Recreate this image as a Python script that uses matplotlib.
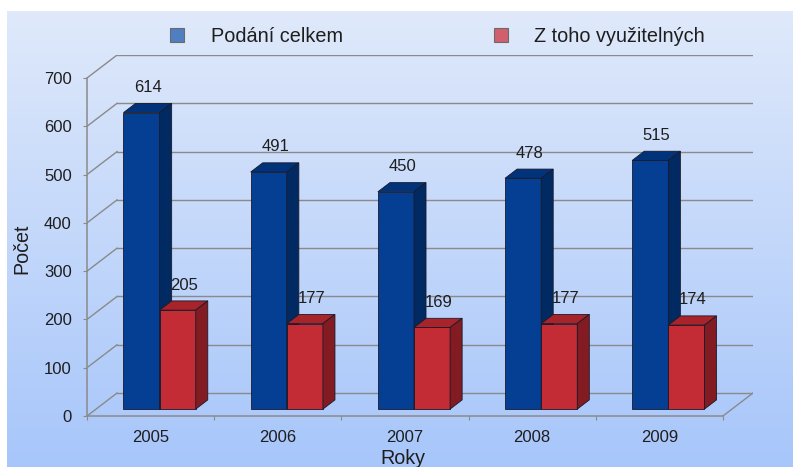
import numpy as np
import matplotlib.pyplot as plt
from matplotlib.patches import Polygon, Rectangle

plt.rcParams['font.family'] = ['Liberation Sans', 'DejaVu Sans']

# data
years = ['2005', '2006', '2007', '2008', '2009']
podani_celkem = [614, 491, 450, 478, 515]
vyuzitelnych = [205, 177, 169, 177, 174]
series_names = ['Podání celkem', 'Z toho využitelných']
y_ticks = [0, 100, 200, 300, 400, 500, 600, 700]

W, H = 793, 467
fig = plt.figure(figsize=(W / 100, H / 100), dpi=100)
fig.patch.set_facecolor('white')

def fx(px):
    return px / W

def fy(py):
    return 1 - py / H

# gradient background panel
bg = fig.add_axes([fx(7), 0, fx(W - 7), (H - 11) / H], zorder=-10)
grad = np.linspace(0, 1, 256).reshape(-1, 1)
top = np.array([0.875, 0.914, 0.984])
bot = np.array([0.655, 0.776, 0.984])
img = top + (bot - top) * grad[:, :, None]
bg.imshow(img, aspect='auto', extent=[0, 1, 0, 1], origin='upper')
bg.axis('off')

# oblique depth offset in data units
DX = 30 / 126.8
DY = 23 / 0.483
f0, f1 = 0.3, 0.7
BW = 0.284

ax = fig.add_axes([fx(87), fy(416), fx(753 - 87), (416 - 55) / H])
ax.set_facecolor('none')
ax.set_xlim(-0.5, len(years) - 0.5 + DX)
ax.set_ylim(0, 700 + DY)

grid_c = '#8a8a8a'
txt_c = '#1e1e1e'
x_left, x_right = -0.5, len(years) - 0.5
for v in y_ticks:
    ax.plot([x_left + DX, x_right + DX], [v + DY, v + DY], color=grid_c, lw=1, zorder=1)
    ax.plot([x_left, x_left + DX], [v, v + DY], color=grid_c, lw=1, zorder=1)
ax.plot([x_right, x_right + DX], [0, DY], color=grid_c, lw=1, zorder=1)

for s in ax.spines.values():
    s.set_visible(False)
ax.spines['left'].set_visible(True)
ax.spines['bottom'].set_visible(True)
ax.spines['left'].set_bounds(0, 700)
ax.spines['bottom'].set_bounds(x_left, x_right)
ax.spines['left'].set_color(grid_c)
ax.spines['bottom'].set_color(grid_c)
ax.spines['left'].set_linewidth(1.1)
ax.spines['bottom'].set_linewidth(1.1)

ax.set_yticks(y_ticks)
ax.tick_params(axis='y', length=3, color=grid_c, pad=8, labelsize=12, labelcolor=txt_c)
ax.set_xticks(np.arange(len(years) + 1) - 0.5)
ax.set_xticklabels([])
ax.set_xticks(np.arange(len(years)), minor=True)
ax.set_xticklabels(years, minor=True)
ax.tick_params(axis='x', which='major', length=3, color=grid_c)
ax.tick_params(axis='x', which='minor', length=0, pad=10, labelsize=12, labelcolor=txt_c)

faces = [
    ('#053f93', '#00337a', '#012a63'),
    ('#c32b35', '#a8232a', '#821c22'),
]
edge = '#1a1a2a'
ddx = (f1 - f0) * DX
ddy = (f1 - f0) * DY
base = f0 * DY

for i in range(len(years)):
    for s, vals in enumerate([podani_celkem, vyuzitelnych]):
        v = vals[i]
        front, topc, side = faces[s]
        x0 = i - BW + s * BW + f0 * DX
        ax.bar(x0, v, width=BW, bottom=base, align='edge', color=front,
               edgecolor=edge, linewidth=0.6, zorder=3 + i * 2 + s)
        ax.add_patch(Polygon([(x0, base + v), (x0 + BW, base + v),
                              (x0 + BW + ddx, base + v + ddy), (x0 + ddx, base + v + ddy)],
                             closed=True, facecolor=topc, edgecolor=edge, lw=0.6,
                             zorder=3 + i * 2 + s))
        ax.add_patch(Polygon([(x0 + BW, base), (x0 + BW + ddx, base + ddy),
                              (x0 + BW + ddx, base + v + ddy), (x0 + BW, base + v)],
                             closed=True, facecolor=side, edgecolor=edge, lw=0.6,
                             zorder=3 + i * 2 + s))
        ax.text(x0 + BW / 2 + 0.05, base + v + 52, str(v), ha='center', va='center',
                fontsize=12, color=txt_c, zorder=20)

# legend
leg_cols = ['#4f7fc0', '#d0606c']
leg_sq = [170, 494]
leg_tx = [211, 534]
for c, sx, tx, name in zip(leg_cols, leg_sq, leg_tx, series_names):
    fig.add_artist(Rectangle((fx(sx), fy(42)), fx(14), 14 / H, facecolor=c,
                             edgecolor='#6a6a6a', lw=0.8, transform=fig.transFigure))
    fig.text(fx(tx), fy(36), name, fontsize=14.3, color=txt_c, va='center', ha='left')

fig.text(fx(403), fy(458), 'Roky', fontsize=14.2, color=txt_c, ha='center', va='center')
fig.text(fx(22), fy(249), 'Počet', fontsize=14.2, color=txt_c, ha='center', va='center',
         rotation=90)

fig.savefig('out.png', dpi=100)
